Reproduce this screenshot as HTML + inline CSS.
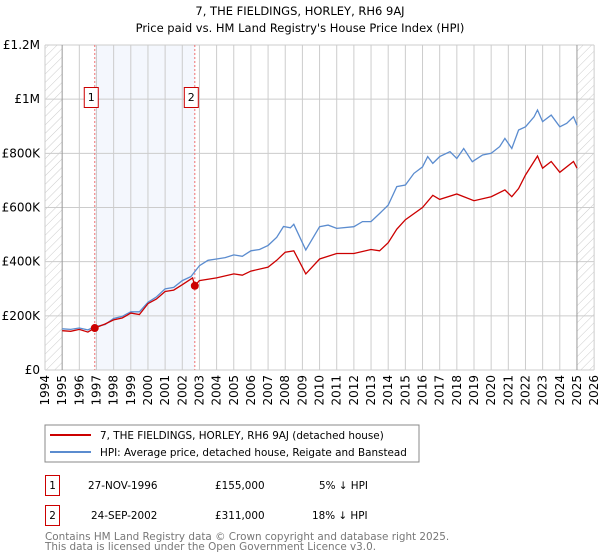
<!DOCTYPE html>
<html><head><meta charset="utf-8"><style>
body{margin:0;background:#fff;}
svg{display:block;font-family:"DejaVu Sans","Liberation Sans",sans-serif;}
</style></head><body>
<svg id="c" width="600" height="560" viewBox="0 0 600 560">
<defs><pattern id="hatch" width="6" height="6" patternUnits="userSpaceOnUse" patternTransform="rotate(45)"><line x1="0" y1="0" x2="0" y2="6" stroke="#ccc" stroke-width="1"/></pattern></defs>
<text x="300" y="15" text-anchor="middle" font-size="11.5">7, THE FIELDINGS, HORLEY, RH6 9AJ</text>
<text x="300" y="32" text-anchor="middle" font-size="11.5">Price paid vs. HM Land Registry's House Price Index (HPI)</text>
<g id="grid"></g><g id="marks"></g>
<rect x="45" y="425" width="374" height="37" fill="#fff" stroke="#888"/>
<line x1="50" y1="435" x2="91" y2="435" stroke="#cc0000" stroke-width="2"/>
<text x="100" y="439" font-size="10.4">7, THE FIELDINGS, HORLEY, RH6 9AJ (detached house)</text>
<line x1="50" y1="452" x2="91" y2="452" stroke="#5b8ccf" stroke-width="2"/>
<text x="100" y="456" font-size="10.4">HPI: Average price, detached house, Reigate and Banstead</text>
<g font-size="10.4">
<rect x="45.5" y="475.5" width="14" height="20" fill="#fff" stroke="#cc0000"/>
<text x="52.5" y="489" text-anchor="middle">1</text>
<text x="88" y="489">27-NOV-1996</text>
<text x="215" y="489">£155,000</text>
<text x="319" y="489">5% ↓ HPI</text>
<rect x="45.5" y="505.5" width="14" height="20" fill="#fff" stroke="#cc0000"/>
<text x="52.5" y="519" text-anchor="middle">2</text>
<text x="91" y="519">24-SEP-2002</text>
<text x="215" y="519">£311,000</text>
<text x="312" y="519">18% ↓ HPI</text>
</g>
<text x="45" y="540" font-size="10.4" fill="#777">Contains HM Land Registry data © Crown copyright and database right 2025.</text>
<text x="45" y="550" font-size="10.4" fill="#777">This data is licensed under the Open Government Licence v3.0.</text>
</svg>
<script>
const yTicks=[0,200000,400000,600000,800000,1000000,1200000];
const yTickLabels=["£0","£200K","£400K","£600K","£800K","£1M","£1.2M"];
const xTicks=[1994,1995,1996,1997,1998,1999,2000,2001,2002,2003,2004,2005,2006,2007,2008,2009,2010,2011,2012,2013,2014,2015,2016,2017,2018,2019,2020,2021,2022,2023,2024,2025,2026];
const hpiYears=[1995,1995.5,1996,1996.5,1996.9,1997.5,1998,1998.5,1999,1999.5,2000,2000.5,2001,2001.5,2002,2002.5,2003,2003.5,2004,2004.5,2005,2005.5,2006,2006.5,2007,2007.5,2007.9,2008.3,2008.5,2009.2,2010,2010.5,2011,2012,2012.5,2013,2013.5,2014,2014.5,2015,2015.5,2016,2016.3,2016.6,2017,2017.6,2018,2018.4,2018.9,2019.5,2020,2020.5,2020.8,2021.2,2021.6,2022,2022.5,2022.7,2023,2023.5,2024,2024.4,2024.8,2025];
const hpiValues=[152,150,155,148,160,168,190,198,215,215,250,270,300,305,330,345,385,405,410,415,425,420,440,445,460,490,530,525,538,443,529,535,523,529,548,548,578,609,677,683,726,750,788,763,788,806,781,818,769,794,800,825,855,818,886,898,935,960,917,941,898,911,935,904];
const priceYears=[1995,1995.5,1996,1996.5,1996.9,1997.5,1998,1998.5,1999,1999.5,2000,2000.5,2001,2001.5,2002,2002.6,2002.73,2003,2004,2005,2005.5,2006,2007,2007.5,2008,2008.5,2009.2,2010,2011,2012,2013,2013.5,2014,2014.5,2015,2016,2016.6,2017,2018,2019,2020,2020.8,2021.2,2021.6,2022,2022.7,2023,2023.5,2024,2024.8,2025];
const priceValues=[145,143,150,140,155,170,185,192,210,205,245,262,290,295,315,340,311,330,340,355,350,365,380,405,435,440,355,410,430,430,445,440,470,520,555,600,645,630,650,625,640,665,640,670,720,790,745,770,730,770,745];
const saleYears=[1996.9,2002.73];
const saleValues=[155000,311000];
const saleLabels=["1","2"];
const X=y=>45+(y-1994)*17.16, Y=v=>370-v/1200000*325;
const NS="http://www.w3.org/2000/svg";
function mk(p,t,a){const e=document.createElementNS(NS,t);for(const k in a)e.setAttribute(k,a[k]);p.appendChild(e);return e;}
const g=document.getElementById('grid'),m=document.getElementById('marks');
let e;
e=mk(g,'rect',{x:X(1994),y:45,width:X(1995)-X(1994),height:325,fill:'url(#hatch)'});


e=mk(g,'rect',{x:X(2025),y:45,width:X(2026)-X(2025),height:325,fill:'url(#hatch)'});


e=mk(g,'rect',{x:X(saleYears[0]),y:45,width:X(saleYears[1])-X(saleYears[0]),height:325,fill:'#f4f7fd'});


yTicks.forEach((v,i)=>{
 e=mk(g,'line',{x1:45,x2:X(2026),y1:Y(v),y2:Y(v),stroke:'#ccc'});
 
 
 e=mk(g,'text',{x:40,y:Y(v)+4,'text-anchor':'end','font-size':'12'});e.textContent=yTickLabels[i];
 
 
});
xTicks.forEach(t=>{
 e=mk(g,'line',{x1:X(t),x2:X(t),y1:45,y2:370,stroke:(t==1995||t==2025)?'#999':'#ccc'});
 
 
 e=mk(g,'text',{transform:`translate(${X(t)+4},375) rotate(-90)`,'text-anchor':'end','font-size':'12'});e.textContent=t;
 
 
});
saleYears.forEach((s,i)=>{
 e=mk(m,'line',{x1:X(s),x2:X(s),y1:45,y2:370,stroke:'#f07070','stroke-dasharray':'2,2'});
 
 
});
const pts=(ys,vs)=>ys.map((y,i)=>X(y).toFixed(1)+','+Y(vs[i]*1000).toFixed(1)).join(' ');
e=mk(m,'polyline',{points:pts(hpiYears,hpiValues),fill:'none',stroke:'#5b8ccf','stroke-width':1.3});


e=mk(m,'polyline',{points:pts(priceYears,priceValues),fill:'none',stroke:'#cc0000','stroke-width':1.3});


saleYears.forEach((s,i)=>{
 e=mk(m,'circle',{cx:X(s),cy:Y(saleValues[i]),r:4,fill:'#cc0000'});
 
 
 e=mk(m,'rect',{x:X(s)-10.5,y:87.5,width:14,height:20,fill:'#fff',stroke:'#cc0000'});
 
 
 e=mk(m,'text',{x:X(s)-3.5,y:101,'text-anchor':'middle','font-size':'11'});e.textContent=saleLabels[i];
 
 
});
</script>
</body></html>
